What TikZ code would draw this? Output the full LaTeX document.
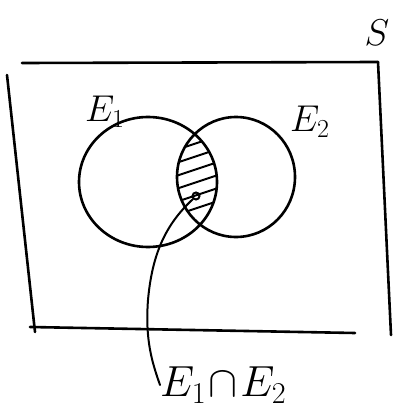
\documentclass[tikz,border=0pt]{standalone}
\usepackage{graphicx}
\usetikzlibrary{calc}
\begin{document}
\begin{tikzpicture}[x=1pt,y=-1pt,
  ink/.style={line width=2.6pt, line cap=round, line join=round, black},
  thin ink/.style={line width=2pt, line cap=round, black},
  lbl/.style={font=\fontsize{24}{29}\selectfont, inner sep=0pt}]
\useasboundingbox (0,0) rectangle (395,409);
% sample space rectangle (hand drawn, open corners)
\draw[ink] (22,63) -- (378,62);
\draw[ink] (378,62) -- (391,335);
\draw[ink] (7,75) -- (35,332);
\draw[ink] (30,327) -- (355,333);
% hatching of the intersection
\begin{scope}
  \clip (148,182) ellipse [x radius=69, y radius=65];
  \clip (236,177) ellipse [x radius=59, y radius=60];
  \foreach \yy in {146,159,172,185,198,211}
    \draw[thin ink] (170,\yy+6) -- (230,\yy-14);
\end{scope}
% events
\draw[ink] (148,182) ellipse [x radius=69, y radius=65];
\draw[ink] (236,177) ellipse [x radius=59, y radius=60];
% labels
\node[lbl] (S) at (377,33) {\scalebox{1.5}{$S$}};
\node[lbl] (e1) at (105,112) {\scalebox{1.5}{$E_1$}};
\node[lbl] (e2) at (310,122) {\scalebox{1.5}{$E_2$}};
\node[lbl, anchor=west] (lab) at (160,385) {\scalebox{1.75}{$E_1\!\cap\! E_2$}};
% point and connector
\node[draw, circle, line width=2pt, minimum size=7pt, inner sep=0pt] (p) at (196,196) {};
\draw[thin ink] (p.south west) .. controls (165,225) and (152,255) .. (148,300)
   .. controls (145,340) and (152,362) .. (lab.west);
\end{tikzpicture}
\end{document}
